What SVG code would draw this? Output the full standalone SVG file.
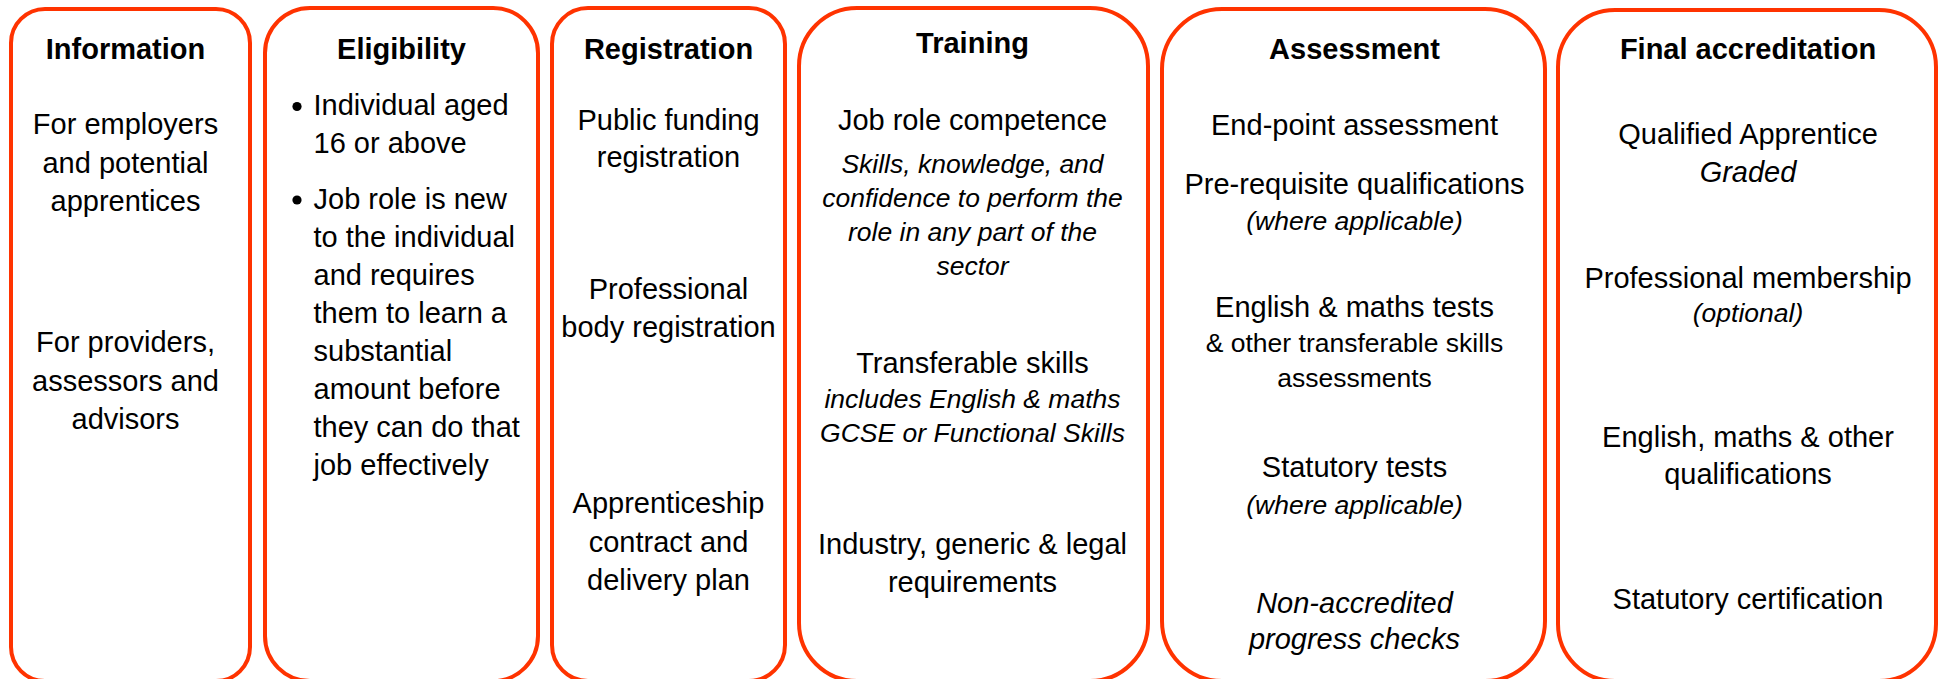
<svg xmlns="http://www.w3.org/2000/svg" width="1944" height="679" viewBox="0 0 1944 679">
  <style>
    .stage { fill: #FFFFFF; stroke: #FF3300; stroke-width: 4; }
    text { font-family: "Liberation Sans", Arial, Helvetica, sans-serif; fill: #000000; }
    .title { font-size: 29px; font-weight: bold; text-anchor: middle; }
    .body { font-size: 29px; text-anchor: middle; }
    .left { font-size: 29px; text-anchor: start; }
    .note { font-size: 26.5px; font-style: italic; text-anchor: middle; }
    .small { font-size: 26.5px; text-anchor: middle; }
    .em { font-size: 29px; font-style: italic; text-anchor: middle; }
    .bullet { fill: #000000; }
  </style>
  <rect width="1944" height="679" fill="#FFFFFF"/>

  <!-- Stage 1: Information -->
  <g id="information">
    <rect class="stage" x="11" y="9" width="239" height="672" rx="34" ry="34"/>
    <text class="title" x="125.5" y="59">Information</text>
    <text class="body" x="125.5" y="134">For employers</text>
    <text class="body" x="125.5" y="172.5">and potential</text>
    <text class="body" x="125.5" y="211">apprentices</text>
    <text class="body" x="125.5" y="352">For providers,</text>
    <text class="body" x="125.5" y="390.5">assessors and</text>
    <text class="body" x="125.5" y="428.5">advisors</text>
  </g>

  <!-- Stage 2: Eligibility -->
  <g id="eligibility">
    <rect class="stage" x="265" y="8" width="273" height="673" rx="45" ry="45"/>
    <text class="title" x="401.5" y="59">Eligibility</text>
    <circle class="bullet" cx="297" cy="106.5" r="4.6"/>
    <text class="left" x="313.5" y="115">Individual aged</text>
    <text class="left" x="313.5" y="153">16 or above</text>
    <circle class="bullet" cx="297" cy="200" r="4.6"/>
    <text class="left" x="313.5" y="208.5">Job role is new</text>
    <text class="left" x="313.5" y="246.5">to the individual</text>
    <text class="left" x="313.5" y="284.5">and requires</text>
    <text class="left" x="313.5" y="322.5">them to learn a</text>
    <text class="left" x="313.5" y="360.5">substantial</text>
    <text class="left" x="313.5" y="398.5">amount before</text>
    <text class="left" x="313.5" y="436.5">they can do that</text>
    <text class="left" x="313.5" y="474.5">job effectively</text>
  </g>

  <!-- Stage 3: Registration -->
  <g id="registration">
    <rect class="stage" x="552" y="8" width="233" height="673" rx="36" ry="36"/>
    <text class="title" x="668.5" y="58.5">Registration</text>
    <text class="body" x="668.5" y="130">Public funding</text>
    <text class="body" x="668.5" y="167">registration</text>
    <text class="body" x="668.5" y="299">Professional</text>
    <text class="body" x="668.5" y="337">body registration</text>
    <text class="body" x="668.5" y="513">Apprenticeship</text>
    <text class="body" x="668.5" y="552">contract and</text>
    <text class="body" x="668.5" y="590">delivery plan</text>
  </g>

  <!-- Stage 4: Training -->
  <g id="training">
    <rect class="stage" x="799" y="8" width="349" height="673" rx="58" ry="58"/>
    <text class="title" x="972.5" y="53">Training</text>
    <text class="body" x="972.5" y="129.5">Job role competence</text>
    <text class="note" x="972.5" y="172.5">Skills, knowledge, and</text>
    <text class="note" x="972.5" y="207">confidence to perform the</text>
    <text class="note" x="972.5" y="241">role in any part of the</text>
    <text class="note" x="972.5" y="275">sector</text>
    <text class="body" x="972.5" y="373">Transferable skills</text>
    <text class="note" x="972.5" y="408">includes English &amp; maths</text>
    <text class="note" x="972.5" y="442">GCSE or Functional Skills</text>
    <text class="body" x="972.5" y="553.5">Industry, generic &amp; legal</text>
    <text class="body" x="972.5" y="591.5">requirements</text>
  </g>

  <!-- Stage 5: Assessment -->
  <g id="assessment">
    <rect class="stage" x="1162" y="9" width="383" height="672" rx="60" ry="60"/>
    <text class="title" x="1354.5" y="59">Assessment</text>
    <text class="body" x="1354.5" y="135">End-point assessment</text>
    <text class="body" x="1354.5" y="194">Pre-requisite qualifications</text>
    <text class="note" x="1354.5" y="230">(where applicable)</text>
    <text class="body" x="1354.5" y="316.5">English &amp; maths tests</text>
    <text class="small" x="1354.5" y="352">&amp; other transferable skills</text>
    <text class="small" x="1354.5" y="387">assessments</text>
    <text class="body" x="1354.5" y="477">Statutory tests</text>
    <text class="note" x="1354.5" y="513.5">(where applicable)</text>
    <text class="em" x="1354.5" y="613">Non-accredited</text>
    <text class="em" x="1354.5" y="649">progress checks</text>
  </g>

  <!-- Stage 6: Final accreditation -->
  <g id="final-accreditation">
    <rect class="stage" x="1558" y="10" width="378" height="671" rx="57" ry="57"/>
    <text class="title" x="1748" y="59">Final accreditation</text>
    <text class="body" x="1748" y="143.5">Qualified Apprentice</text>
    <text class="em" x="1748" y="182">Graded</text>
    <text class="body" x="1748" y="288">Professional membership</text>
    <text class="note" x="1748" y="321.5">(optional)</text>
    <text class="body" x="1748" y="446.5">English, maths &amp; other</text>
    <text class="body" x="1748" y="484">qualifications</text>
    <text class="body" x="1748" y="609">Statutory certification</text>
  </g>

  <!-- No connectors between the stages -->
  <g id="connectors"/>
</svg>
